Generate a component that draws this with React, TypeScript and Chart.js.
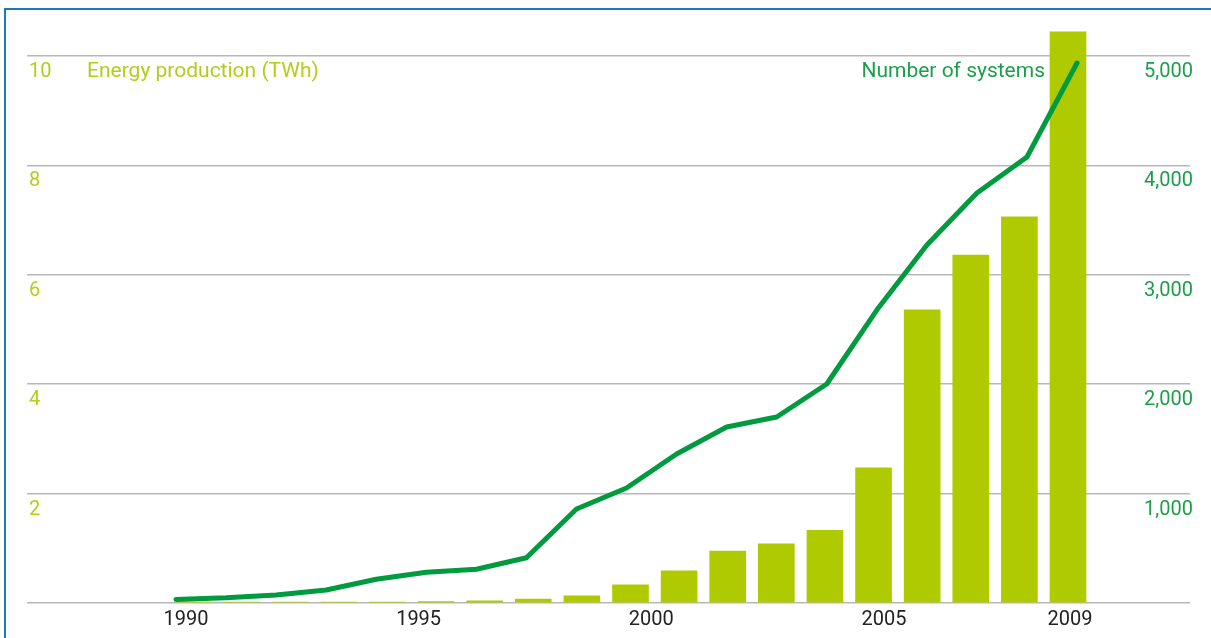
import React, { useEffect, useRef } from 'react';
import { Chart, registerables } from 'chart.js';

Chart.register(...registerables);

// ---- Data ----
const years = [1991, 1992, 1993, 1994, 1995, 1996, 1997, 1998, 1999, 2000, 2001, 2002, 2003, 2004, 2005, 2006, 2007, 2008, 2009];
const energyTWh = [0.015, 0.015, 0.015, 0.015, 0.015, 0.025, 0.04, 0.07, 0.13, 0.33, 0.59, 0.95, 1.08, 1.33, 2.47, 5.36, 6.36, 7.06, 10.44];
const systemsCount = [32, 47, 73, 119, 217, 281, 308, 414, 859, 1051, 1362, 1609, 1700, 2002, 2678, 3272, 3748, 4077, 4936];
const xTickYears = [1990, 1995, 2000, 2005, 2009];
const energyTitle = 'Energy production (TWh)';
const systemsTitle = 'Number of systems';

const FONT = 'Roboto, "DejaVu Sans", sans-serif';
const BAR_COLOR = '#b0ca00';
const LINE_COLOR = '#009a3f';
const ENERGY_TEXT = '#b3cd1d';
const SYSTEMS_TEXT = '#1c9e4a';

const titlePlugin = {
  id: 'seriesTitles',
  afterDraw(chart: any) {
    const { ctx, chartArea } = chart;
    ctx.save();
    ctx.font = `21px ${FONT}`;
    ctx.textBaseline = 'middle';
    ctx.fillStyle = ENERGY_TEXT;
    ctx.textAlign = 'left';
    ctx.fillText(energyTitle, chartArea.left + 60, chartArea.top + 16);
    ctx.fillStyle = SYSTEMS_TEXT;
    ctx.textAlign = 'right';
    ctx.fillText(systemsTitle, chartArea.right - 145, chartArea.top + 16);
    ctx.restore();
  },
};

export default function App() {
  const ref = useRef<HTMLCanvasElement | null>(null);

  useEffect(() => {
    if (!ref.current) return;
    Chart.defaults.font.family = FONT;
    const chart = new Chart(ref.current, {
      type: 'bar',
      data: {
        datasets: [
          {
            type: 'line',
            label: systemsTitle,
            data: years.map((y, i) => ({ x: y, y: systemsCount[i] })),
            xAxisID: 'xLine',
            yAxisID: 'ySys',
            borderColor: LINE_COLOR,
            backgroundColor: LINE_COLOR,
            borderWidth: 5,
            pointRadius: 0,
            tension: 0,
            borderCapStyle: 'round',
            borderJoinStyle: 'round',
            order: 0,
            clip: false,
          } as any,
          {
            type: 'bar',
            label: energyTitle,
            data: years.map((y, i) => ({ x: y, y: energyTWh[i] })),
            xAxisID: 'xBar',
            yAxisID: 'yEnergy',
            backgroundColor: BAR_COLOR,
            barThickness: 36,
            grouped: false,
            order: 1,
            clip: false,
          } as any,
        ],
      },
      options: {
        responsive: false,
        animation: false,
        layout: { padding: { left: 23, right: 15, top: 56, bottom: 1 } },
        plugins: { legend: { display: false }, tooltip: { enabled: false } },
        scales: {
          x: {
            type: 'linear',
            position: 'bottom',
            offset: false,
            min: 1986.583,
            max: 2011.579,
            grid: { display: false, drawTicks: false },
            border: { display: false },
            afterBuildTicks: (s: any) => {
              s.ticks = xTickYears.map((v) => ({ value: v }));
            },
            ticks: {
              callback: (v: any) => String(v),
              color: '#222222',
              font: { size: 20 },
              padding: 5,
              maxRotation: 0,
              autoSkip: false,
            },
          },
          xBar: { type: 'linear', axis: 'x', display: false, offset: false, min: 1987.585, max: 2011.51, grid: { drawTicks: false } },
          xLine: { type: 'linear', axis: 'x', display: false, offset: false, min: 1988.023, max: 2011.257, grid: { drawTicks: false } },
          yEnergy: {
            type: 'linear',
            position: 'left',
            min: 0,
            max: 10,
            ticks: {
              stepSize: 2,
              mirror: true,
              padding: 2,
              labelOffset: 16,
              color: ENERGY_TEXT,
              font: { size: 20 },
              callback: (v: any) => (v === 0 ? '' : String(v)),
            },
            grid: { color: '#b8b8b8', lineWidth: 1.5, drawTicks: false },
            border: { display: false },
          },
          ySys: {
            type: 'linear',
            position: 'right',
            min: 0,
            max: 5000,
            ticks: {
              stepSize: 1000,
              mirror: true,
              padding: 3,
              labelOffset: 16,
              color: SYSTEMS_TEXT,
              font: { size: 20 },
              callback: (v: any) => (v === 0 ? '' : Number(v).toLocaleString('en-US')),
            },
            grid: { display: false, drawTicks: false },
            border: { display: false },
          },
        } as any,
      },
      plugins: [titlePlugin],
    });
    return () => chart.destroy();
  }, []);

  return (
    <div style={{ position: 'fixed', left: 0, top: 0, width: 1211, height: 638, background: '#ffffff', overflow: 'hidden' }}>
      <div
        style={{
          position: 'absolute',
          left: 4,
          top: 8,
          width: 1300,
          height: 700,
          borderTop: '2px solid #1a7ab5',
          borderLeft: '2px solid #1a7ab5',
        }}
      />
      <canvas ref={ref} width={1211} height={638} style={{ position: 'absolute', left: 0, top: 0 }} />
    </div>
  );
}
